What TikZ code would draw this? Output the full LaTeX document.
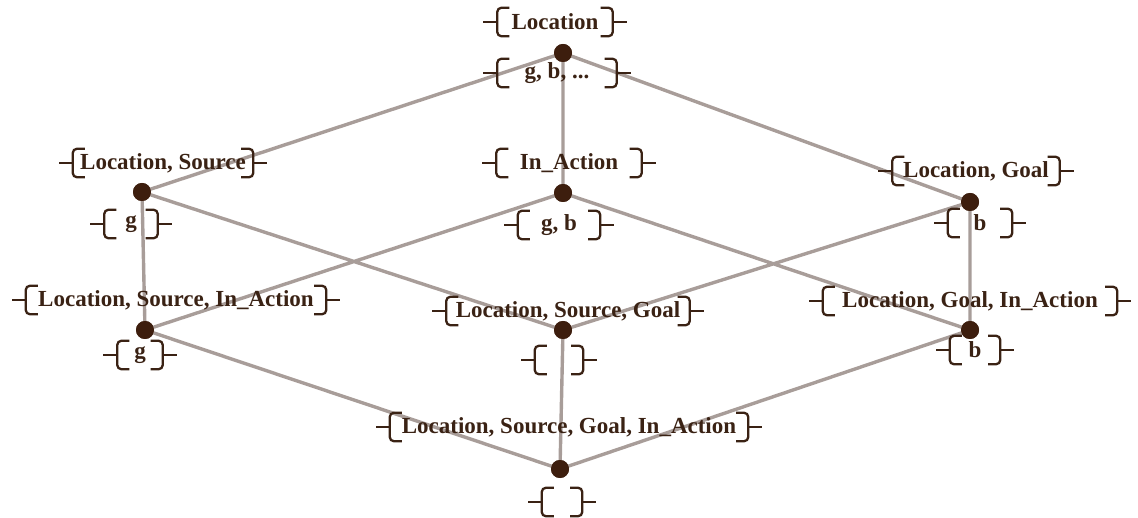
\documentclass[tikz,border=0pt]{standalone}
\usepackage{fontspec}
\setmainfont{Liberation Serif}
\definecolor{edgec}{HTML}{A89D99}
\definecolor{dotc}{HTML}{3D1E0E}
\definecolor{txtc}{HTML}{3A2214}
\newcommand\lblbr[1]{%
  \draw[brk] ([xshift=12pt]#1.north west) -- (#1.north west) -- (#1.south west) -- ([xshift=12pt]#1.south west);
  \draw[brk] (#1.west) -- ([xshift=-14pt]#1.west);
  \draw[brk] ([xshift=-12pt]#1.north east) -- (#1.north east) -- (#1.south east) -- ([xshift=-12pt]#1.south east);
  \draw[brk] (#1.east) -- ([xshift=14pt]#1.east);
}
\begin{document}
\begin{tikzpicture}[x=1pt,y=-1pt,
  edge/.style={draw=edgec, line width=3.4pt},
  dotn/.style={circle, fill=dotc, inner sep=0pt, minimum size=18pt},
  lbl/.style={inner sep=0pt, minimum height=28pt, text=txtc, font=\fontsize{23}{27}\selectfont\bfseries},
  brk/.style={draw=txtc, line width=2.3pt, rounded corners=4pt}]
\useasboundingbox (0,0) rectangle (1138,518);
% concept nodes
\node[dotn] (top) at (563,53) {};
\node[dotn] (lft) at (142,192) {};
\node[dotn] (mid) at (563,193) {};
\node[dotn] (rgt) at (970,202) {};
\node[dotn] (ll) at (145,330) {};
\node[dotn] (lm) at (563,330) {};
\node[dotn] (lr) at (970,330) {};
\node[dotn] (bot) at (560,469) {};
% edges
\path[edge] (top) -- (lft) (top) -- (mid) (top) -- (rgt)
  (lft) -- (ll) (lft) -- (lm)
  (mid) -- (ll) (mid) -- (lr)
  (rgt) -- (lm) (rgt) -- (lr)
  (ll) -- (bot) (lm) -- (bot) (lr) -- (bot);
% dots on top of edges
\foreach \n in {top,lft,mid,rgt,ll,lm,lr,bot} \fill[dotc] (\n) circle[radius=9pt];
% labels
\node[lbl, minimum width=115pt] (tA) at (555,22) {Location};
\node[lbl, minimum width=119pt] (tO) at (557,73) {g, b, ...};
\node[lbl, minimum width=180pt] (lA) at (163,163) {Location, Source};
\node[lbl, minimum width=53pt] (lO) at (131,224) {g};
\node[lbl, minimum width=145pt] (mA) at (569,163) {In\_Action};
\node[lbl, minimum width=82pt] (mO) at (559,225) {g, b};
\node[lbl, minimum width=167pt] (rA) at (976,171) {Location, Goal};
\node[lbl, minimum width=64pt] (rO) at (980,223) {b};
\node[lbl, minimum width=300pt] (llA) at (176,300) {Location, Source, In\_Action};
\node[lbl, minimum width=45pt] (llO) at (140,355) {g};
\node[lbl, minimum width=243pt] (lmA) at (568,311) {Location, Source, Goal};
\node[lbl, minimum width=48pt] (lmO) at (559,360) {};
\node[lbl, minimum width=294pt] (lrA) at (970,301) {Location, Goal, In\_Action};
\node[lbl, minimum width=50pt] (lrO) at (975,350) {b};
\node[lbl, minimum width=358pt] (bA) at (569,427) {Location, Source, Goal, In\_Action};
\node[lbl, minimum width=40pt] (bO) at (562,502) {};
\foreach \n in {tA,tO,lA,lO,mA,mO,rA,rO,llA,llO,lmA,lmO,lrA,lrO,bA,bO} {\lblbr{\n}}
\end{tikzpicture}
\end{document}
